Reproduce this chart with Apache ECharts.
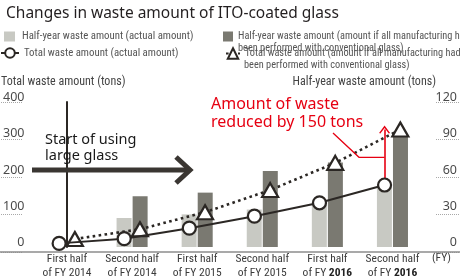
<!DOCTYPE html>
<html><head><meta charset="utf-8">
<script src="https://cdn.jsdelivr.net/npm/echarts@6/dist/echarts.min.js"></script>
<style>html,body{margin:0;padding:0;background:#fff}#c{width:460px;height:280px}</style>
</head><body><div id="c"></div>
<script>
// ---- data ----
const categories = ['First half\nof FY 2014', 'Second half\nof FY 2014', 'First half\nof FY 2015', 'Second half\nof FY 2015', 'First half\nof FY 2016', 'Second half\nof FY 2016'];
const halfActual = [0, 24, 27, 31, 37, 49];           // tons, right axis
const halfConventional = [0, 42, 45, 63, 70, 93];     // tons, right axis
const totalActual = [10, 23, 52, 85, 122, 171];       // tons, left axis
const totalConventional = [22, 49, 96, 157, 232, 324];// tons, left axis
const leftTicks = [0, 100, 200, 300, 400];
const rightTicks = [0, 30, 60, 90, 120];

const N1 = 'Half-year waste amount (actual amount)';
const N2 = 'Half-year waste amount (amount if all manufacturing had been performed with conventional glass)';
const N3 = 'Total waste amount (actual amount)';
const N4 = 'Total waste amount (amount if all manufacturing had been performed with conventional glass)';

const LIGHT = '#c8c9c3', DARK = '#7a7971', INK = '#2b2724', RED = '#e60012';
const FONT = 'Noto Sans';
const COND = 'Roboto Condensed';
const OFF = 0.121; // offset of each bar centre inside its category band (fraction of band)

const chart = echarts.init(document.getElementById('c'), null, {renderer: 'canvas'});

const firstLine = s => s.split(' been')[0];
const secondLine = s => 'been' + s.split(' been')[1];
const legText = size => ({fontFamily: COND, fontSize: size, color: '#555', lineHeight: 10});
const legendBase = {orient: 'vertical', padding: 0, selectedMode: false};
const CHEVRON = 'path://M0,10 L5,0 L10,10 L8.8,10.8 L5,3.2 L1.2,10.8 Z';

const option = {
  animation: false,
  title: {text: 'Changes in waste amount of ITO-coated glass', left: 1, top: 1,
    textStyle: {fontFamily: FONT, fontSize: 15.5, fontWeight: 'normal', color: '#231f20'}},
  legend: [
    Object.assign({}, legendBase, {data: [{name: N1, icon: 'rect'}], left: 4, top: 31, itemWidth: 11, itemHeight: 10,
      textStyle: Object.assign(legText(10.8), {padding: [0, 0, 0, 2]})}),
    Object.assign({}, legendBase, {data: [N3], left: 0, top: 47, itemWidth: 18, itemHeight: 12,
      textStyle: Object.assign(legText(10.8), {lineHeight: 12})}),
    Object.assign({}, legendBase, {data: [{name: N2, icon: 'rect'}], left: 223, top: 31.5, itemWidth: 10, itemHeight: 10,
      formatter: firstLine, textStyle: legText(10.3)}),
    Object.assign({}, legendBase, {data: [N4], left: 225, top: 47, itemWidth: 14, itemHeight: 13,
      formatter: firstLine, textStyle: Object.assign(legText(10.3), {lineHeight: 13})})
  ],
  grid: [
    {left: 32, right: 32, top: 102, bottom: 28},   // main plot
    {left: 0, width: 22, top: 102, bottom: 28},    // left tick-label underlines
    {left: 436, width: 24, top: 102, bottom: 28},  // right tick-label underlines
    {left: 0, right: 0, top: 102, bottom: 28}      // full-width baseline
  ],
  xAxis: [
    {type: 'category', gridIndex: 0, data: categories,
      axisLine: {show: false}, axisTick: {show: false},
      axisLabel: {interval: 0, margin: 5, fontFamily: COND, fontSize: 11.5, lineHeight: 14, color: '#3b3b3b',
        formatter: v => v.replace('2016', '{b|2016}'),
        rich: {b: {fontFamily: COND, fontSize: 11.5, fontWeight: 'bold', color: '#222', lineHeight: 14}}},
      name: '(FY)', nameLocation: 'end', nameGap: 7,
      nameTextStyle: {fontFamily: COND, fontSize: 11.5, color: '#3b3b3b', verticalAlign: 'top', padding: [5, 0, 0, 0]}},
    {type: 'value', gridIndex: 0, min: -0.5, max: categories.length - 0.5, show: false},
    {type: 'value', gridIndex: 1, show: false},
    {type: 'value', gridIndex: 2, show: false},
    {type: 'value', gridIndex: 3, min: 0, max: 1, axisLine: {show: true, lineStyle: {color: '#8d8d8d', width: 1.5}},
      axisTick: {show: false}, axisLabel: {show: false}, splitLine: {show: false}}
  ],
  yAxis: [
    {type: 'value', gridIndex: 0, position: 'left', min: leftTicks[0], max: leftTicks[leftTicks.length - 1], interval: 100,
      axisLine: {show: true, lineStyle: {color: INK, width: 2}}, axisTick: {show: false}, splitLine: {show: false},
      axisLabel: {margin: 10, fontFamily: FONT, fontSize: 12.5, color: '#4a4a4a', verticalAlign: 'bottom', lineHeight: 9}},
    {type: 'value', gridIndex: 0, position: 'right', min: rightTicks[0], max: rightTicks[rightTicks.length - 1], interval: 30,
      axisLine: {show: false}, axisTick: {show: false}, splitLine: {show: false},
      axisLabel: {margin: 32, align: 'right', fontFamily: FONT, fontSize: 12.5, color: '#4a4a4a', verticalAlign: 'bottom', lineHeight: 9}},
    {type: 'value', gridIndex: 1, position: 'left', min: 0, max: 400, interval: 100,
      name: 'Total waste amount (tons)', nameLocation: 'end', nameGap: 14,
      nameTextStyle: {fontFamily: COND, fontSize: 12, color: '#444', align: 'left'},
      axisLine: {show: false}, axisTick: {show: false},
      axisLabel: {show: false}, splitLine: {lineStyle: {color: '#a8a8a8', type: [1, 1], width: 1}}},
    {type: 'value', gridIndex: 2, position: 'right', min: 0, max: 120, interval: 30,
      name: 'Half-year waste amount (tons)', nameLocation: 'end', nameGap: 14,
      nameTextStyle: {fontFamily: COND, fontSize: 12, color: '#444', align: 'right'},
      axisLine: {show: false}, axisTick: {show: false},
      axisLabel: {show: false}, splitLine: {lineStyle: {color: '#a8a8a8', type: [1, 1], width: 1}}},
    {type: 'value', gridIndex: 3, show: false}
  ],
  series: [
    {name: N1, type: 'bar', xAxisIndex: 0, yAxisIndex: 1, data: halfActual, barWidth: 15, barGap: '7%',
      itemStyle: {color: LIGHT}, z: 2},
    {name: N2, type: 'bar', xAxisIndex: 0, yAxisIndex: 1, data: halfConventional, barWidth: 15,
      itemStyle: {color: DARK}, z: 2},
    {name: N4, type: 'line', xAxisIndex: 1, yAxisIndex: 0, z: 4,
      data: totalConventional.map((v, i) => [i + OFF, v]),
      symbol: 'triangle', symbolSize: [16, 14],
      lineStyle: {color: INK, width: 2.6, type: [2.6, 3.4]},
      itemStyle: {color: '#fff', borderColor: INK, borderWidth: 2.2}},
    {name: N3, type: 'line', xAxisIndex: 1, yAxisIndex: 0, z: 5,
      data: totalActual.map((v, i) => [i - OFF, v]),
      symbol: 'circle', symbolSize: 13,
      lineStyle: {color: INK, width: 2},
      itemStyle: {color: '#fff', borderColor: INK, borderWidth: 2.2}},
    {name: 'reduction', type: 'line', xAxisIndex: 1, yAxisIndex: 0, z: 8, data: [],
      markLine: {silent: true, animation: false, label: {show: false},
        symbol: [CHEVRON, CHEVRON], symbolSize: [11, 8],
        lineStyle: {color: RED, width: 1.6, type: 'solid'},
        data: [[{coord: [categories.length - 1 - OFF, totalConventional[5]]}, {coord: [categories.length - 1 - OFF, totalActual[5]]}]]}}
  ]
};
chart.setOption(option);

// annotations
const n = categories.length - 1;
const mid = chart.convertToPixel({xAxisIndex: 1, yAxisIndex: 0}, [n - OFF, (totalActual[n] + totalConventional[n]) / 2]);
chart.setOption({
  graphic: [
    {type: 'text', left: 238, top: 43, z: 10,
      style: {text: secondLine(N2), fontFamily: COND, fontSize: 10.3, lineHeight: 10, fill: '#555'}},
    {type: 'text', left: 244, top: 60, z: 10,
      style: {text: secondLine(N4), fontFamily: COND, fontSize: 10.3, lineHeight: 10, fill: '#555'}},
    {type: 'text', left: 45, top: 132, z: 10,
      style: {text: 'Start of using\nlarge glass', fontFamily: FONT, fontSize: 14.5, lineHeight: 16, fill: '#1a1a1a'}},
    {type: 'polyline', z: 10, shape: {points: [[32, 170], [189, 170]]}, style: {stroke: '#3a3632', lineWidth: 5, fill: null}},
    {type: 'polyline', z: 10, shape: {points: [[176, 157], [190, 170], [176, 183]]},
      style: {stroke: '#3a3632', lineWidth: 5, fill: null, lineJoin: 'miter'}},
    {type: 'text', left: 211, top: 95, z: 10,
      style: {text: 'Amount of waste\nreduced by 150 tons', fontFamily: FONT, fontSize: 16, lineHeight: 18, fill: RED}},
    {type: 'polyline', z: 10, shape: {points: [[333, 133], [359, mid[1]], [mid[0], mid[1]]]},
      style: {stroke: RED, lineWidth: 1.3, fill: null}}
  ]
});
</script></body></html>
